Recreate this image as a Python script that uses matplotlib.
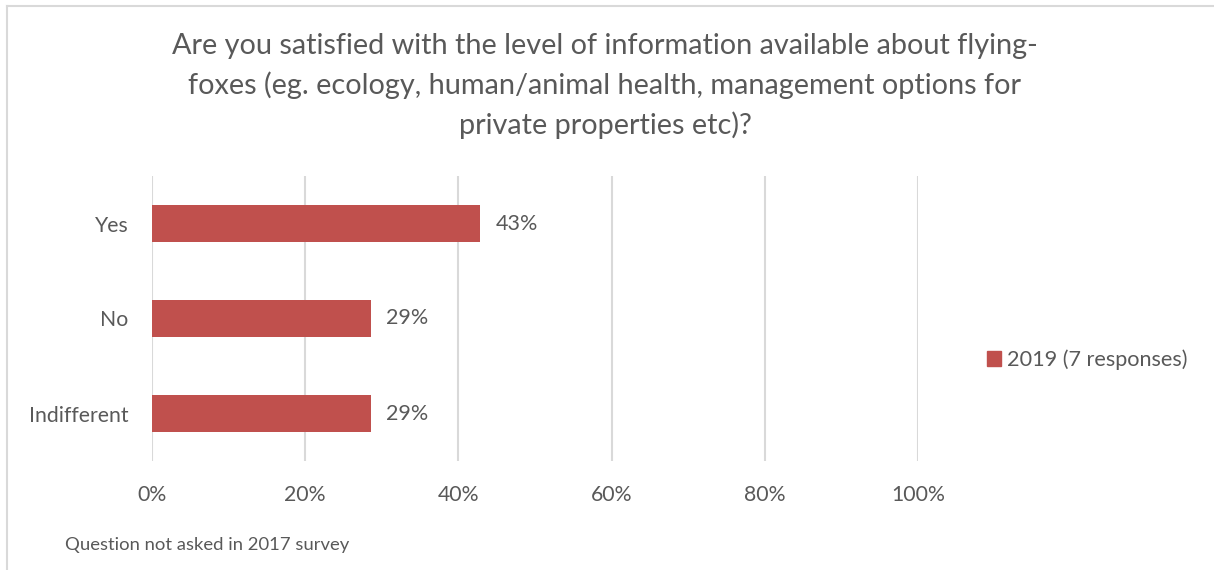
import matplotlib.pyplot as plt
from matplotlib.lines import Line2D
from matplotlib.patches import Patch

# Survey data (share of responses, 7 responses in total)
categories = ["Yes", "No", "Indifferent"]
shares = [3 / 7, 2 / 7, 2 / 7]
label_texts = ["43%", "29%", "29%"]
x_ticks = [0, 0.2, 0.4, 0.6, 0.8, 1.0]
x_tick_labels = ["0%", "20%", "40%", "60%", "80%", "100%"]
series_name = "2019 (7 responses)"

BAR_COLOR = "#C0504D"
TEXT_COLOR = "#595959"
GRID_COLOR = "#D9D9D9"
FONT = ["Lato", "DejaVu Sans"]

plt.rcParams["font.family"] = FONT

W, H = 1214, 570
fig = plt.figure(figsize=(W / 100, H / 100), dpi=100)

# chart border (top and left edges visible in the crop)
fig.add_artist(Line2D([6.5 / W, 6.5 / W], [0, 1 - 5.5 / H], color=GRID_COLOR,
                      lw=1.5, transform=fig.transFigure))
fig.add_artist(Line2D([6.5 / W, 1], [1 - 5.5 / H, 1 - 5.5 / H], color=GRID_COLOR,
                      lw=1.5, transform=fig.transFigure))

ax = fig.add_axes([152 / W, 1 - 461 / H, 766 / W, 285 / H])
ypos = list(range(len(categories)))
ax.barh(ypos, shares, height=0.39, color=BAR_COLOR, zorder=2)
ax.set_ylim(len(categories) - 0.5, -0.5)
ax.set_xlim(0, 1.0)
ax.set_yticks(ypos)
ax.set_yticklabels(categories)
ax.set_xticks(x_ticks)
ax.set_xticklabels(x_tick_labels)
ax.tick_params(axis="both", length=0, labelsize=15.3, labelcolor=TEXT_COLOR)
ax.tick_params(axis="x", pad=17)
ax.tick_params(axis="y", pad=17)
for s in ax.spines.values():
    s.set_visible(False)
ax.grid(axis="x", color=GRID_COLOR, lw=1.5, zorder=0)
ax.set_axisbelow(True)

for y, v, t in zip(ypos, shares, label_texts):
    ax.annotate(t, (v, y), xytext=(11, 0), textcoords="offset points",
                va="center", ha="left", fontsize=15.5, color=TEXT_COLOR)

fig.text(605 / W, 1 - 86 / H,
         "Are you satisfied with the level of information available about flying-\n"
         "foxes (eg. ecology, human/animal health, management options for\n"
         "private properties etc)?",
         ha="center", va="center", fontsize=20.8, color=TEXT_COLOR,
         linespacing=1.56)

leg = fig.legend(handles=[Patch(color=BAR_COLOR, label=series_name)],
                 loc="center left", bbox_to_anchor=(987 / W, 1 - 360 / H),
                 frameon=False, fontsize=15.6, handlelength=0.65, handleheight=0.65,
                 handletextpad=0.28, borderpad=0, borderaxespad=0)
for t in leg.get_texts():
    t.set_color(TEXT_COLOR)

fig.text(65 / W, 1 - 545 / H, "Question not asked in 2017 survey",
         ha="left", va="center", fontsize=13.3, color=TEXT_COLOR)

fig.savefig("out.png", dpi=100)
